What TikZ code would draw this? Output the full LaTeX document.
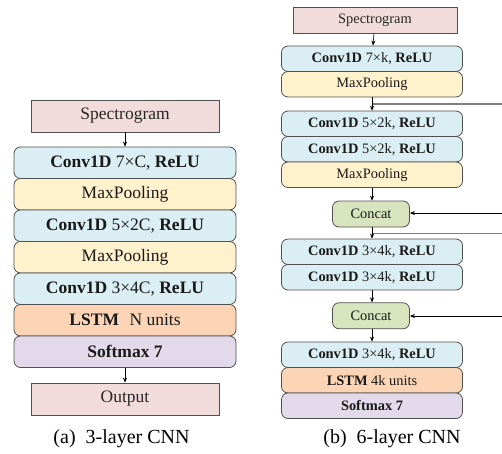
\documentclass[tikz,border=0pt]{standalone}
\usepackage{fontspec}
\setmainfont{Liberation Serif}
\usetikzlibrary{arrows.meta,calc}
\definecolor{bord}{HTML}{505050}
\definecolor{cpink}{HTML}{F2DCDB}
\definecolor{cblue}{HTML}{DAEEF3}
\definecolor{cyel}{HTML}{FFF2CC}
\definecolor{cpeach}{HTML}{FBD5B5}
\definecolor{clav}{HTML}{E2DAEA}
\definecolor{cgreen}{HTML}{D7E4BD}
\definecolor{skipc}{HTML}{808080}
\begin{document}
\begin{tikzpicture}[x=1pt,y=-1pt,
  lay/.style={draw=bord, line width=0.8pt, rounded corners=6.5pt, inner sep=0pt, text=black!90},
  io/.style={draw=bord, line width=0.8pt, inner sep=0pt, fill=cpink, text=black!85},
  lbox/.style={lay, minimum width=222pt, minimum height=31.5pt, font=\fontsize{17.5}{18}\selectfont},
  lio/.style={io, minimum width=188pt, minimum height=32pt, font=\fontsize{17.5}{18}\selectfont},
  rbox/.style={lay, minimum width=181pt, minimum height=25.5pt, font=\fontsize{14.4}{15}\selectfont},
  rio/.style={io, minimum width=164pt, minimum height=26pt, font=\fontsize{14.4}{15}\selectfont},
  cc/.style={lay, fill=cgreen, minimum width=77pt, minimum height=26pt, font=\fontsize{14.4}{15}\selectfont},
  arr/.style={-{Stealth[length=5pt,width=4pt]}, line width=0.6pt, black},
  skipl/.style={draw=skipc, line width=1.3pt},
  captext/.style={font=\fontsize{20}{22}\selectfont, inner sep=0pt}
]
\useasboundingbox (0,0) rectangle (502,453);
% ---------- (a) ----------
\node[lio] (ls) at (125,116) {Spectrogram};
\node[lbox, fill=cblue] (l1) at (125,162.75) {\textbf{Conv1D} 7×C, \textbf{ReLU}};
\node[lbox, fill=cyel] (l2) at (125,194.25) {MaxPooling};
\node[lbox, fill=cblue] (l3) at (125,225.75) {\textbf{Conv1D} 5×2C, \textbf{ReLU}};
\node[lbox, fill=cyel] (l4) at (125,257.25) {MaxPooling};
\node[lbox, fill=cblue] (l5) at (125,288.75) {\textbf{Conv1D} 3×4C, \textbf{ReLU}};
\node[lbox, fill=cpeach] (l6) at (125,320.25) {\textbf{LSTM}\hspace{0.6em}N units};
\node[lbox, fill=clav] (l7) at (125,351.75) {\textbf{Softmax 7}};
\node[lio] (lo) at (125,399) {Output};
\draw[arr] (ls) -- (l1);
\draw[arr] (l7) -- (lo);
\node[captext] (capa) at (121.5,439) {(a)\hspace{0.5em}3-layer CNN};
% ---------- (b) ----------
\node[rio] (rs) at (375,20) {Spectrogram};
\node[rbox, fill=cblue] (r1) at (372,58.75) {\textbf{Conv1D} 7×k, \textbf{ReLU}};
\node[rbox, fill=cyel] (r2) at (372,84.25) {MaxPooling};
\node[rbox, fill=cblue] (r3) at (372,123.75) {\textbf{Conv1D} 5×2k, \textbf{ReLU}};
\node[rbox, fill=cblue] (r4) at (372,149.25) {\textbf{Conv1D} 5×2k, \textbf{ReLU}};
\node[rbox, fill=cyel] (r5) at (372,174.75) {MaxPooling};
\node[cc] (k1) at (371,214) {Concat};
\node[rbox, fill=cblue] (r6) at (372,251.75) {\textbf{Conv1D} 3×4k, \textbf{ReLU}};
\node[rbox, fill=cblue] (r7) at (372,277.25) {\textbf{Conv1D} 3×4k, \textbf{ReLU}};
\node[cc] (k2) at (371,315.75) {Concat};
\node[rbox, fill=cblue] (r8) at (372,354.75) {\textbf{Conv1D} 3×4k, \textbf{ReLU}};
\node[rbox, fill=cpeach] (r9) at (372,380.25) {\textbf{LSTM} 4k units};
\node[rbox, fill=clav] (r10) at (372,405.75) {\textbf{Softmax 7}};
\node[captext] (capb) at (392,439) {(b)\hspace{0.5em}6-layer CNN};
% skip connections
\coordinate (j1) at ($(r2.south)!0.5!(r3.north)$);
\coordinate (j2) at ($(k1.south)!0.55!(r6.north)$);
\coordinate (e1) at (502,104);
\coordinate (e2) at (502,213);
\coordinate (e3) at (502,233);
\coordinate (e4) at (502,316);
\draw[skipl] (j1) -- (j1 -| e1);
\draw[skipl] (j2) -- (j2 -| e3);
\draw[arr] (e2) -- (e2 -| k1.east);
\draw[arr] (e4) -- (e4 -| k2.east);
% main arrows
\draw[arr] (rs) -- (r1);
\draw[arr] (r2.south) -- (r3.north);
\draw[arr] (r5.south) -- (r5.south |- k1.north);
\draw[arr] (k1.south -| r6.north) -- (r6.north);
\draw[arr] (r7.south) -- (r7.south |- k2.north);
\draw[arr] (k2.south -| r8.north) -- (r8.north);
\end{tikzpicture}
\end{document}
